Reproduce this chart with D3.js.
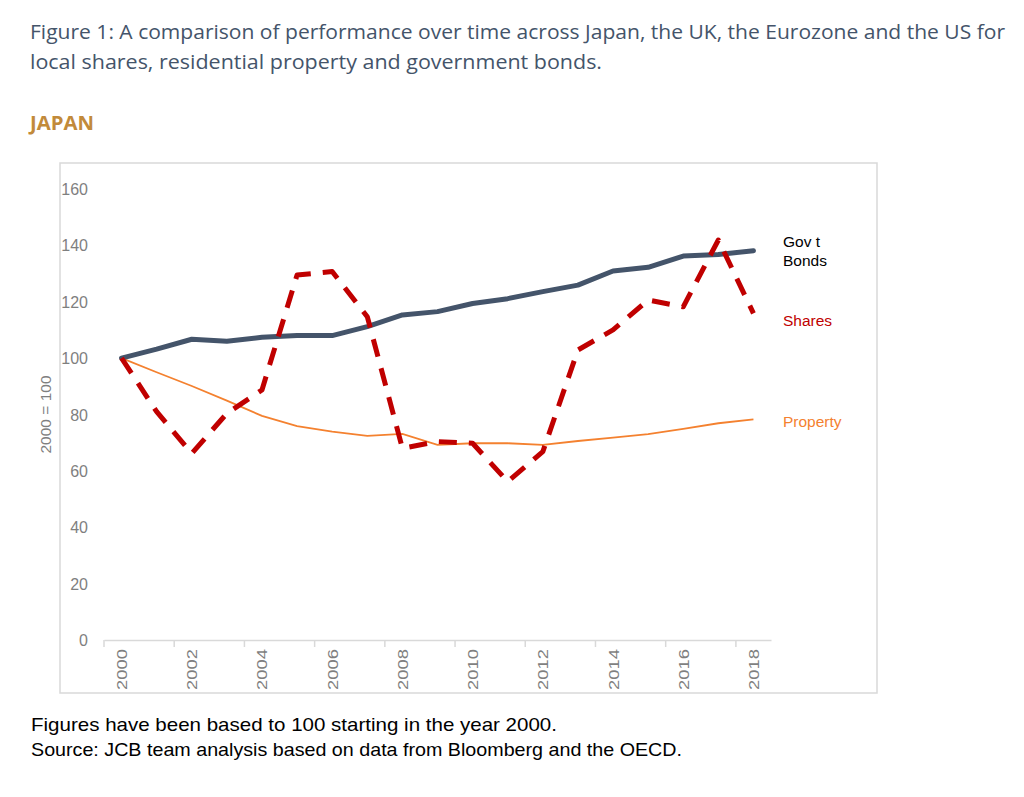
<!DOCTYPE html>
<html>
<head>
<meta charset="utf-8">
<script src="https://cdn.jsdelivr.net/npm/d3@7"></script>
<style>
body { margin: 0; background: #fff; }
</style>
</head>
<body>
<script>
// dados (indice 2000 = 100)
var years = [2000,2001,2002,2003,2004,2005,2006,2007,2008,2009,2010,2011,2012,2013,2014,2015,2016,2017,2018];
var govtBonds = [100,103.2,106.7,106,107.4,108,108,111.2,115.3,116.5,119.4,121.1,123.6,125.9,130.9,132.2,136.2,136.8,138.1];
var shares = [100,81,66.2,80.4,88.7,129.5,130.7,114.7,68,70.4,69.8,56.2,66.8,102.9,110,120.6,118.2,141.9,115.9];
var property = [100,95,90.1,84.9,79.5,75.9,73.9,72.4,73.1,69.2,69.8,69.8,69.2,70.6,71.8,73,74.9,76.9,78.3];
var yTicks = [0,20,40,60,80,100,120,140,160];
var xTickYears = [2000,2002,2004,2006,2008,2010,2012,2014,2016,2018];

var titleLines = ["Figure 1: A comparison of performance over time across Japan, the UK, the Eurozone and the US for",
                  "local shares, residential property and government bonds."];
var footLines = ["Figures have been based to 100 starting in the year 2000.",
                 "Source: JCB team analysis based on data from Bloomberg and the OECD."];

var W = 1024, H = 797;
var svg = d3.select("body").append("svg").attr("width", W).attr("height", H);
var arial = "Liberation Sans, Arial";

// titulo
svg.append("text").attr("x", 30).attr("y", 39).text(titleLines[0])
    .attr("font-family", "Open Sans").attr("font-size", 20).attr("fill", "#44546a")
    .attr("textLength", 975).attr("lengthAdjust", "spacingAndGlyphs");
svg.append("text").attr("x", 30).attr("y", 69).text(titleLines[1])
    .attr("font-family", "Open Sans").attr("font-size", 20).attr("fill", "#44546a")
    .attr("textLength", 572).attr("lengthAdjust", "spacingAndGlyphs");

svg.append("text").attr("x", 30).attr("y", 130).text("JAPAN")
    .attr("font-family", "Open Sans").attr("font-weight", "bold").attr("font-size", 19)
    .attr("fill", "#c28a3a").attr("textLength", 64).attr("lengthAdjust", "spacingAndGlyphs");

// caixa do grafico
svg.append("rect").attr("x", 60).attr("y", 163).attr("width", 817).attr("height", 530)
    .attr("fill", "none").attr("stroke", "#d9d9d9").attr("stroke-width", 1.5);

var x = d3.scaleBand().domain(years).range([104, 771]);
var y = d3.scaleLinear().domain([0, 160]).range([640, 189]);

var g = svg.append("g");

// eixo y (sem linha)
g.selectAll("text.ytick").data(yTicks).enter().append("text")
    .attr("x", 88).attr("y", d => y(d) + 6).attr("text-anchor", "end")
    .attr("font-family", arial).attr("font-size", 16).attr("fill", "#7f7f7f")
    .text(d => d);

svg.append("text").attr("transform", "translate(51," + y(80) + ") rotate(-90)")
    .attr("text-anchor", "middle").attr("font-family", arial)
    .attr("font-size", 15.5).attr("fill", "#7f7f7f").text("2000 = 100");

// eixo x
var xAxis = d3.axisBottom(x).tickValues(xTickYears).tickSize(0).tickFormat("");
var ax = g.append("g").attr("transform", "translate(0," + y(0) + ")").call(xAxis);
ax.select(".domain").attr("stroke", "#d9d9d9").attr("stroke-width", 1.5);
g.selectAll("line.xtick").data(xTickYears).enter().append("line")
    .attr("x1", d => x(d)).attr("x2", d => x(d))
    .attr("y1", y(0)).attr("y2", y(0) + 7)
    .attr("stroke", "#d9d9d9").attr("stroke-width", 1.5);
g.selectAll("text.xlab").data(xTickYears).enter().append("text")
    .attr("transform", d => "translate(" + (x(d) + x.bandwidth() / 2 + 5.5) + "," + (y(0) + 9) + ") rotate(-90)")
    .attr("text-anchor", "end").attr("font-family", arial)
    .attr("font-size", 15.5).attr("fill", "#7f7f7f")
    .attr("textLength", 41).attr("lengthAdjust", "spacingAndGlyphs").text(d => d);

// linhas
var line = d3.line().x((d, i) => x(years[i]) + x.bandwidth() / 2).y(d => y(d));

g.append("path").datum(property).attr("d", line).attr("fill", "none")
    .attr("stroke", "#f4812f").attr("stroke-width", 1.8);
g.append("path").datum(govtBonds).attr("d", line).attr("fill", "none")
    .attr("stroke", "#44546a").attr("stroke-width", 5).attr("stroke-linejoin", "round").attr("stroke-linecap", "round");
g.append("path").datum(shares).attr("d", line).attr("fill", "none")
    .attr("stroke", "#c00000").attr("stroke-width", 5).attr("stroke-dasharray", "18,12")
    .attr("stroke-linejoin", "round");

// rotulos das series
var lx = 783;
svg.append("text").attr("x", lx).attr("y", 247).text("Gov t").attr("font-family", arial).attr("font-size", 15.5).attr("fill", "#000");
svg.append("text").attr("x", lx).attr("y", 266).text("Bonds").attr("font-family", arial).attr("font-size", 15.5).attr("fill", "#000");
svg.append("text").attr("x", lx).attr("y", 326).text("Shares").attr("font-family", arial).attr("font-size", 15.5).attr("fill", "#c00000");
svg.append("text").attr("x", lx).attr("y", 427).text("Property").attr("font-family", arial).attr("font-size", 15.5).attr("fill", "#f4812f");

// notas
svg.append("text").attr("x", 31).attr("y", 731).text(footLines[0])
    .attr("font-family", arial).attr("font-size", 18.5).attr("fill", "#000")
    .attr("textLength", 526).attr("lengthAdjust", "spacingAndGlyphs");
svg.append("text").attr("x", 31).attr("y", 756).text(footLines[1])
    .attr("font-family", arial).attr("font-size", 18.5).attr("fill", "#000")
    .attr("textLength", 651).attr("lengthAdjust", "spacingAndGlyphs");
</script>
</body>
</html>
